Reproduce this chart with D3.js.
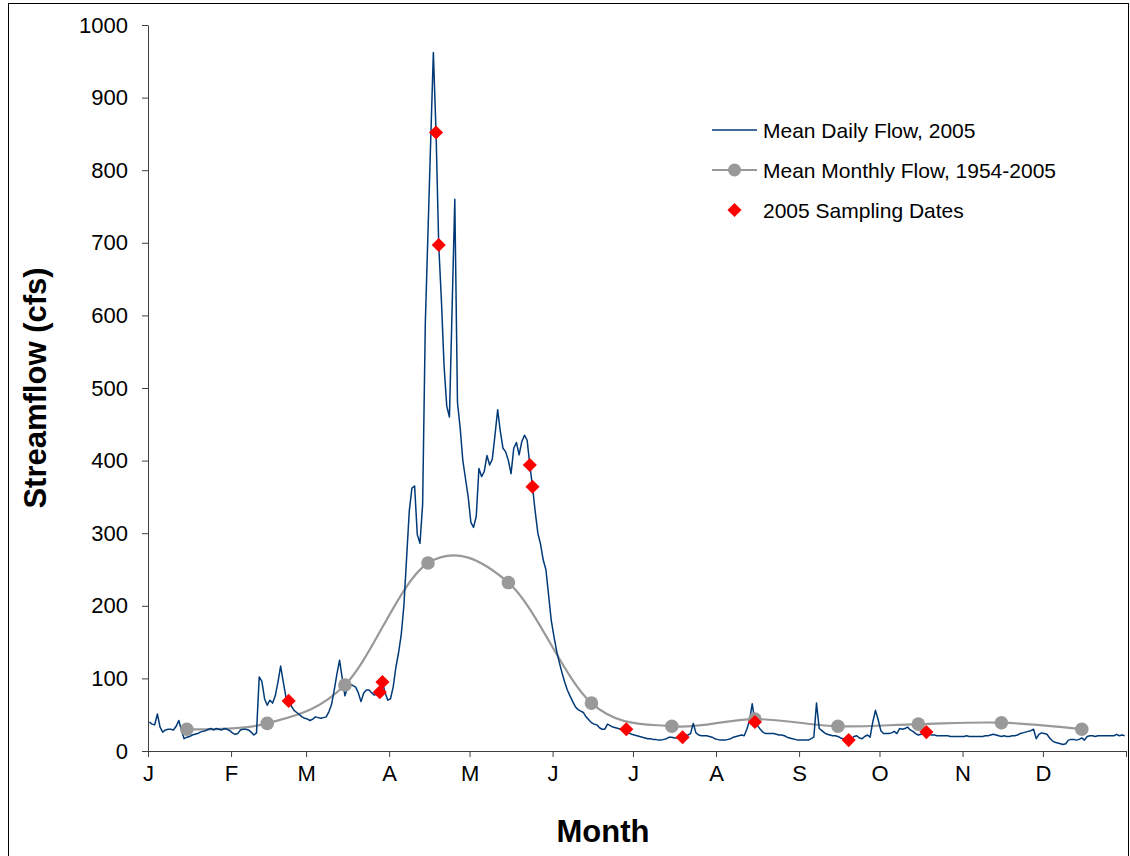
<!DOCTYPE html>
<html>
<head>
<meta charset="utf-8">
<script src="https://cdn.jsdelivr.net/npm/d3@7"></script>
<style>
  html, body { margin: 0; padding: 0; background: #fff; }
  svg { display: block; font-family: "Liberation Sans", Arial, sans-serif; }
</style>
</head>
<body>
<svg id="chart" width="1130" height="856"></svg>
<script>
// ---------------- DATA ----------------
const monthLabels = ["J","F","M","A","M","J","J","A","S","O","N","D"];
const yTickValues = [0,100,200,300,400,500,600,700,800,900,1000];

// Mean daily flow 2005 (cfs), Jan 1 .. Dec 31
const dailyJan = [40,37,36,51,33,26,29,30,30,29,34,42,28,17,19,20,22,23,24,26,27,28,30,31,29,31,30,29,31,30,28];
const dailyFeb = [25,23,24,29,30,30,29,26,22,25,102,96,72,63,70,66,76,95,117,95,74,68,62,56,53,50,47,45];
const dailyMar = [44,42,44,47,46,45,46,47,54,64,84,106,125,100,76,88,92,90,88,80,68,80,84,84,80,77,78,81,95,80,70];
const dailyApr = [72,88,115,135,160,200,265,330,362,365,298,286,340,590,715,840,962,852,697,621,530,475,460,610,760,480,445,400,375,350];
const dailyMay = [315,308,323,389,378,385,407,394,402,435,470,440,417,412,400,382,417,425,408,426,435,428,394,364,330,300,285,263,250,215,180];
const dailyJun = [158,138,122,108,95,84,76,68,61,57,55,53,47,43,39,37,36,32,30,30,37,35,33,32,31,30,29,30,25,23];
const dailyJul = [22,21,20,19,18,17,17,16,16,15,15,16,17,19,19,18,18,18,19,21,22,24,38,25,22,21,21,21,20,19,17];
const dailyAug = [16,15,15,15,16,17,19,20,21,22,21,30,42,65,40,35,30,26,24,24,24,24,23,22,22,21,19,18,17,16,15];
const dailySep = [15,15,15,15,17,19,66,31,28,25,23,22,21,21,20,18,17,16,15,17,20,21,18,17,20,22,19,40,56,43];
const dailyOct = [28,24,24,24,25,27,24,31,30,31,33,29,27,24,22,23,24,26,23,22,22,21,21,21,21,21,20,20,20,20,20];
const dailyNov = [20,21,20,20,20,20,20,20,21,21,22,23,22,21,20,21,20,20,21,21,22,24,25,26,27,28,30,17,23,25];
const dailyDec = [24,23,18,14,12,11,10,9,10,15,16,16,15,16,18,15,20,21,21,20,21,21,21,21,21,21,21,23,21,22,21];

// Mean monthly flow 1954-2005
const monthlyDates = ["2005-01-15","2005-02-14","2005-03-15","2005-04-15","2005-05-15","2005-06-15",
                      "2005-07-15","2005-08-15","2005-09-15","2005-10-15","2005-11-15","2005-12-15"];
const monthlyFlow = [30,38,91,259,232,66,34,44,34,37,39,30];

// 2005 sampling dates
const sampleDates = ["2005-02-22","2005-03-28","2005-03-29","2005-04-18","2005-04-19","2005-05-23",
                     "2005-05-24","2005-06-28","2005-07-19","2005-08-15","2005-09-19","2005-10-18"];
const sampleFlow = [69,81,95,852,697,394,364,30,19,40,15,26];

const legendLabels = ["Mean Daily Flow, 2005","Mean Monthly Flow, 1954-2005","2005 Sampling Dates"];

// ---------------- CHART ----------------
const svg = d3.select("#chart");
const parse = d3.utcParse("%Y-%m-%d");
const midDay = d => new Date(d.getTime() + 12 * 3600 * 1000);

const dailyFlow = [].concat(dailyJan, dailyFeb, dailyMar, dailyApr, dailyMay, dailyJun,
                            dailyJul, dailyAug, dailySep, dailyOct, dailyNov, dailyDec);
const start = new Date(Date.UTC(2005, 0, 1));
const daily = dailyFlow.map((v, i) => ({ date: midDay(d3.utcDay.offset(start, i)), v }));
const monthly = monthlyDates.map((d, i) => ({ date: midDay(parse(d)), v: monthlyFlow[i] }));
const samples = sampleDates.map((d, i) => ({ date: midDay(parse(d)), v: sampleFlow[i] }));

const x = d3.scaleUtc().domain([start, new Date(Date.UTC(2006, 0, 1))]).range([148, 1126]);
const y = d3.scaleLinear().domain([0, 1000]).range([751, 25]);

// outer frame
svg.append("rect").attr("x", 8.5).attr("y", 3.5).attr("width", 1120).attr("height", 870)
   .attr("fill", "none").attr("stroke", "#000").attr("stroke-width", 1);

// axes
const axisColor = "#404040";
const yAxis = d3.axisLeft(y).tickValues(yTickValues).tickFormat(d3.format("d"))
  .tickSize(6).tickSizeOuter(0).tickPadding(14);
const gy = svg.append("g").attr("transform", "translate(148,0)").call(yAxis);
const monthTicks = d3.utcMonth.range(start, new Date(Date.UTC(2006, 0, 2)));
const xAxis = d3.axisBottom(x).tickValues(monthTicks).tickSize(6).tickSizeOuter(0).tickPadding(8)
  .tickFormat((d, i) => i < 12 ? monthLabels[i] : "");
const gx = svg.append("g").attr("transform", "translate(0,751)").call(xAxis);
[gx, gy].forEach(g => {
  g.selectAll("path.domain").attr("stroke", axisColor).attr("stroke-width", 1);
  g.selectAll(".tick line").attr("stroke", axisColor).attr("stroke-width", 1);
  g.selectAll(".tick text").attr("fill", "#000").style("font-size", "22px")
    .style("font-family", "'Liberation Sans', Arial, sans-serif");
});

// axis titles
svg.append("text").attr("transform", "translate(35,388) rotate(-90)")
   .attr("text-anchor", "middle").attr("dominant-baseline", "central")
   .style("font-size", "31px").style("font-weight", "bold").text("Streamflow (cfs)");
svg.append("text").attr("x", 603).attr("y", 831)
   .attr("text-anchor", "middle").attr("dominant-baseline", "central")
   .style("font-size", "31px").style("font-weight", "bold").text("Month");

// monthly mean smooth line
const monthlyLine = d3.line().x(d => x(d.date)).y(d => y(d.v)).curve(d3.curveCardinal.tension(0));
svg.append("path").datum(monthly).attr("d", monthlyLine)
   .attr("fill", "none").attr("stroke", "#999999").attr("stroke-width", 2.2);

// daily line
const dailyLine = d3.line().x(d => x(d.date)).y(d => y(d.v));
svg.append("path").datum(daily).attr("d", dailyLine)
   .attr("fill", "none").attr("stroke", "#003a78").attr("stroke-width", 1.5)
   .attr("stroke-linejoin", "round");

// monthly points
svg.append("g").selectAll("circle").data(monthly).join("circle")
   .attr("cx", d => x(d.date)).attr("cy", d => y(d.v)).attr("r", 6.8).attr("fill", "#999999");

// sampling diamonds
const diamond = d3.symbol().type(d3.symbolSquare).size(100);
svg.append("g").selectAll("path").data(samples).join("path")
   .attr("d", diamond)
   .attr("transform", d => `translate(${x(d.date)},${y(d.v)}) rotate(45)`)
   .attr("fill", "#ff0000");

// legend
const lg = svg.append("g");
const rows = [130, 170, 210];
lg.append("line").attr("x1", 712).attr("x2", 757).attr("y1", rows[0]).attr("y2", rows[0])
  .attr("stroke", "#003a78").attr("stroke-width", 1.5);
lg.append("line").attr("x1", 712).attr("x2", 757).attr("y1", rows[1]).attr("y2", rows[1])
  .attr("stroke", "#999999").attr("stroke-width", 2);
lg.append("circle").attr("cx", 734.5).attr("cy", rows[1]).attr("r", 6.5).attr("fill", "#999999");
lg.append("path").attr("d", diamond).attr("transform", `translate(734.5,${rows[2]}) rotate(45)`)
  .attr("fill", "#ff0000");
lg.selectAll("text").data(legendLabels).join("text")
  .attr("x", 763).attr("y", (d, i) => rows[i]).attr("dominant-baseline", "central")
  .style("font-size", "21px").attr("fill", "#000").text(d => d);
</script>
</body>
</html>
